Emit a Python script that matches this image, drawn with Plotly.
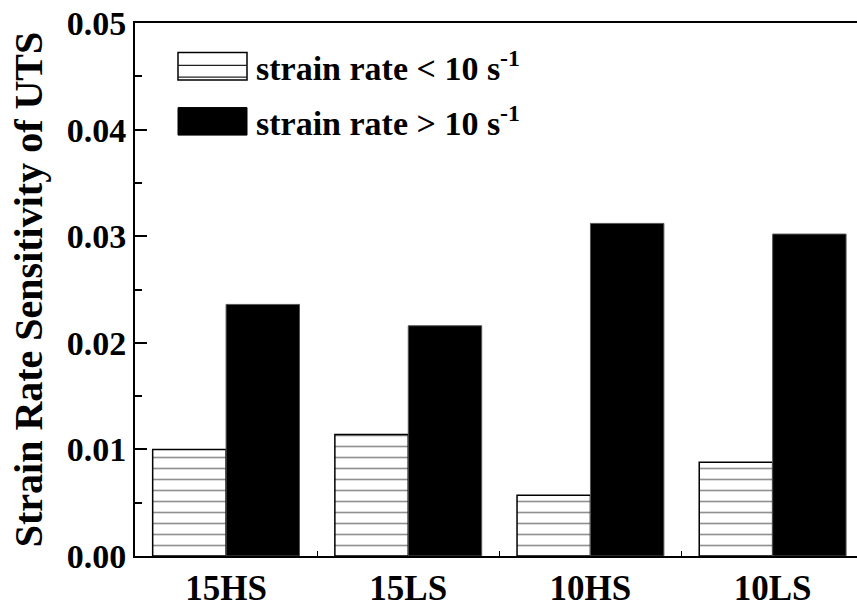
import plotly.graph_objects as go

categories = ["15HS", "15LS", "10HS", "10LS"]
low_rate = [0.0100, 0.0114, 0.0057, 0.0088]
high_rate = [0.0236, 0.0216, 0.0312, 0.0302]
y_ticks = [0.00, 0.01, 0.02, 0.03, 0.04, 0.05]
y_ticktext = ["0.00", "0.01", "0.02", "0.03", "0.04", "0.05"]
legend_labels = ["strain rate &lt; 10 s<sup>-1</sup>", "strain rate &gt; 10 s<sup>-1</sup>"]

W, H = 857, 608
L, R, T, B = 135, 0, 23, 43
pw, ph = W - L - R, H - T - B

def px(x):
    return (x - L) / pw

def py(y):
    return (H - B - y) / ph

FONT = "Liberation Serif"

fig = go.Figure()
fig.add_trace(go.Bar(
    x=categories, y=low_rate, name=legend_labels[0],
    marker=dict(color="white", line=dict(color="black", width=1.5),
                pattern=dict(shape="-", size=11, solidity=0.15, fgcolor="#222222", bgcolor="white")),
    showlegend=False,
))
fig.add_trace(go.Bar(
    x=categories, y=high_rate, name=legend_labels[1],
    marker=dict(color="black", line=dict(color="#555555", width=1)),
    showlegend=False,
))

shapes = []
# manual legend: hatched box
shapes.append(dict(type="rect", xref="paper", yref="paper",
                   x0=px(178), x1=px(247), y0=py(81), y1=py(53),
                   line=dict(color="black", width=1.5), fillcolor="white"))
for yy in (66, 78):
    shapes.append(dict(type="line", xref="paper", yref="paper",
                       x0=px(178), x1=px(247), y0=py(yy), y1=py(yy),
                       line=dict(color="#222222", width=1.2)))
shapes.append(dict(type="rect", xref="paper", yref="paper",
                   x0=px(178), x1=px(247), y0=py(137), y1=py(109),
                   line=dict(color="black", width=1), fillcolor="black"))

annotations = []
for lab, yc in zip(legend_labels, (67, 123)):
    annotations.append(dict(text=lab, xref="paper", yref="paper",
                            x=px(254), y=py(yc), xanchor="left", yanchor="middle",
                            showarrow=False,
                            font=dict(family=FONT, size=34, color="black", weight="bold")))

fig.update_layout(
    width=W, height=H,
    margin=dict(l=L, r=R, t=T, b=B),
    paper_bgcolor="white", plot_bgcolor="white",
    barmode="group", bargap=0.194, bargroupgap=0,
    shapes=shapes, annotations=annotations,
    font=dict(family=FONT, color="black"),
)
fig.update_xaxes(
    range=[-0.5, 3.463], type="category",
    showline=True, linecolor="black", linewidth=2, mirror=True,
    ticks="inside", tickson="boundaries", ticklen=5, tickcolor="black", tickwidth=1,
    tickfont=dict(family=FONT, size=35, color="black", weight="bold"),
    showgrid=False, zeroline=False,
)
fig.update_yaxes(
    range=[0, 0.05], tickvals=y_ticks, ticktext=y_ticktext,
    showline=True, linecolor="black", linewidth=2, mirror=False,
    ticks="inside", ticklen=12, tickcolor="black", tickwidth=1.5,
    minor=dict(ticks="inside", ticklen=7, dtick=0.005, tickcolor="black", tickwidth=1.5, showgrid=False),
    tickfont=dict(family=FONT, size=34, color="black", weight="bold"),
    title=dict(text="Strain Rate Sensitivity of UTS", standoff=12,
               font=dict(family=FONT, size=40, color="black", weight="bold")),
    showgrid=False, zeroline=False,
)

fig.write_html("out.html")
